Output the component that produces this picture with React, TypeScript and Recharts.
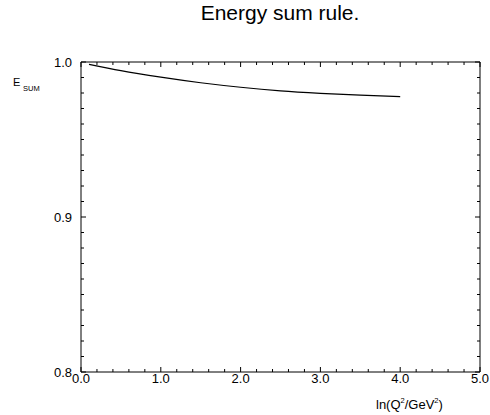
import { LineChart, Line, XAxis, YAxis } from 'recharts';

// curve
const lnQ2 = [0.1, 0.5, 1.0, 1.5, 2.0, 2.5, 3.0, 3.5, 4.0];
const eSum = [0.9985, 0.9944, 0.9902, 0.9866, 0.9837, 0.9814, 0.9798, 0.9786, 0.9777];

const xTicks = [0, 0.2, 0.4, 0.6, 0.8, 1, 1.2, 1.4, 1.6, 1.8, 2, 2.2, 2.4, 2.6, 2.8, 3, 3.2, 3.4, 3.6, 3.8, 4, 4.2, 4.4, 4.6, 4.8, 5];
const yTicks = [0.8, 0.81, 0.82, 0.83, 0.84, 0.85, 0.86, 0.87, 0.88, 0.89, 0.9, 0.91, 0.92, 0.93, 0.94, 0.95, 0.96, 0.97, 0.98, 0.99, 1.0];

const data = lnQ2.map((q, i) => ({ q, e: eSum[i] }));

const FONT = '"Liberation Sans", Arial, sans-serif';
const isMajorX = (v: number) => Math.abs(v - Math.round(v)) < 1e-6;
const isMajorY = (v: number) => Math.abs(v * 10 - Math.round(v * 10)) < 1e-6;

// eslint-disable-next-line @typescript-eslint/no-explicit-any
const BottomTick = ({ x, y, payload }: any) => {
  const major = isMajorX(payload.value);
  return (
    <g>
      <line x1={x} y1={y} x2={x} y2={y - (major ? 5 : 3)} stroke="#000" />
      {major && (
        <text x={x} y={y + 10.5} textAnchor="middle" fontSize={13} fontFamily={FONT} fill="#000">
          {payload.value.toFixed(1)}
        </text>
      )}
    </g>
  );
};

// eslint-disable-next-line @typescript-eslint/no-explicit-any
const TopTick = ({ x, y, payload }: any) => {
  const major = isMajorX(payload.value);
  return <line x1={x} y1={y} x2={x} y2={y + (major ? 5 : 3)} stroke="#000" />;
};

// eslint-disable-next-line @typescript-eslint/no-explicit-any
const LeftTick = ({ x, y, payload }: any) => {
  const major = isMajorY(payload.value);
  return (
    <g>
      <line x1={x} y1={y} x2={x + (major ? 5 : 3)} y2={y} stroke="#000" />
      {major && (
        <text x={x - 9} y={y + 4.5} textAnchor="end" fontSize={13} fontFamily={FONT} fill="#000">
          {payload.value.toFixed(1)}
        </text>
      )}
    </g>
  );
};

// eslint-disable-next-line @typescript-eslint/no-explicit-any
const RightTick = ({ x, y, payload }: any) => {
  const major = isMajorY(payload.value);
  return <line x1={x} y1={y} x2={x - (major ? 5 : 3)} y2={y} stroke="#000" />;
};

export default function App() {
  return (
    <div style={{ position: 'absolute', left: 0, top: 0, width: 490, height: 415, background: '#fff' }}>
      <LineChart width={490} height={415} data={data} margin={{ top: 0, right: 0, bottom: 0, left: 0 }}>
        <XAxis
          xAxisId="b"
          dataKey="q"
          type="number"
          domain={[0, 5]}
          ticks={xTicks}
          interval={0}
          height={43}
          tickSize={0}
          tickMargin={0}
          tickLine={false}
          axisLine={{ stroke: '#000' }}
          tick={<BottomTick />}
          allowDataOverflow
        />
        <XAxis
          xAxisId="t"
          orientation="top"
          dataKey="q"
          type="number"
          domain={[0, 5]}
          ticks={xTicks}
          interval={0}
          height={62}
          tickSize={0}
          tickMargin={0}
          tickLine={false}
          axisLine={{ stroke: '#000' }}
          tick={<TopTick />}
          allowDataOverflow
        />
        <YAxis
          yAxisId="l"
          type="number"
          domain={[0.8, 1.0]}
          ticks={yTicks}
          interval={0}
          width={81}
          tickSize={0}
          tickMargin={0}
          tickLine={false}
          axisLine={{ stroke: '#000' }}
          tick={<LeftTick />}
          allowDataOverflow
        />
        <YAxis
          yAxisId="r"
          orientation="right"
          type="number"
          domain={[0.8, 1.0]}
          ticks={yTicks}
          interval={0}
          width={10}
          tickSize={0}
          tickMargin={0}
          tickLine={false}
          axisLine={{ stroke: '#000' }}
          tick={<RightTick />}
          allowDataOverflow
        />
        <Line
          xAxisId="b"
          yAxisId="l"
          type="monotone"
          dataKey="e"
          stroke="#000"
          strokeWidth={1.2}
          dot={false}
          isAnimationActive={false}
        />
      </LineChart>
      <svg
        width={490}
        height={415}
        style={{ position: 'absolute', left: 0, top: 0, pointerEvents: 'none' }}
        fontFamily={FONT}
      >
        <text x={280} y={20} textAnchor="middle" fontSize={21} fill="#000">
          Energy sum rule.
        </text>
        <text x={13} y={86} fontSize={11} fill="#000">
          E
        </text>
        <text x={23} y={91} fontSize={7.5} fill="#000">
          SUM
        </text>
        <text x={376} y={409} fontSize={13} fill="#000">
          ln(Q
          <tspan dy={-6} fontSize={7.5}>2</tspan>
          <tspan dy={6}>/GeV</tspan>
          <tspan dy={-6} fontSize={7.5}>2</tspan>
          <tspan dy={6}>)</tspan>
        </text>
      </svg>
    </div>
  );
}
